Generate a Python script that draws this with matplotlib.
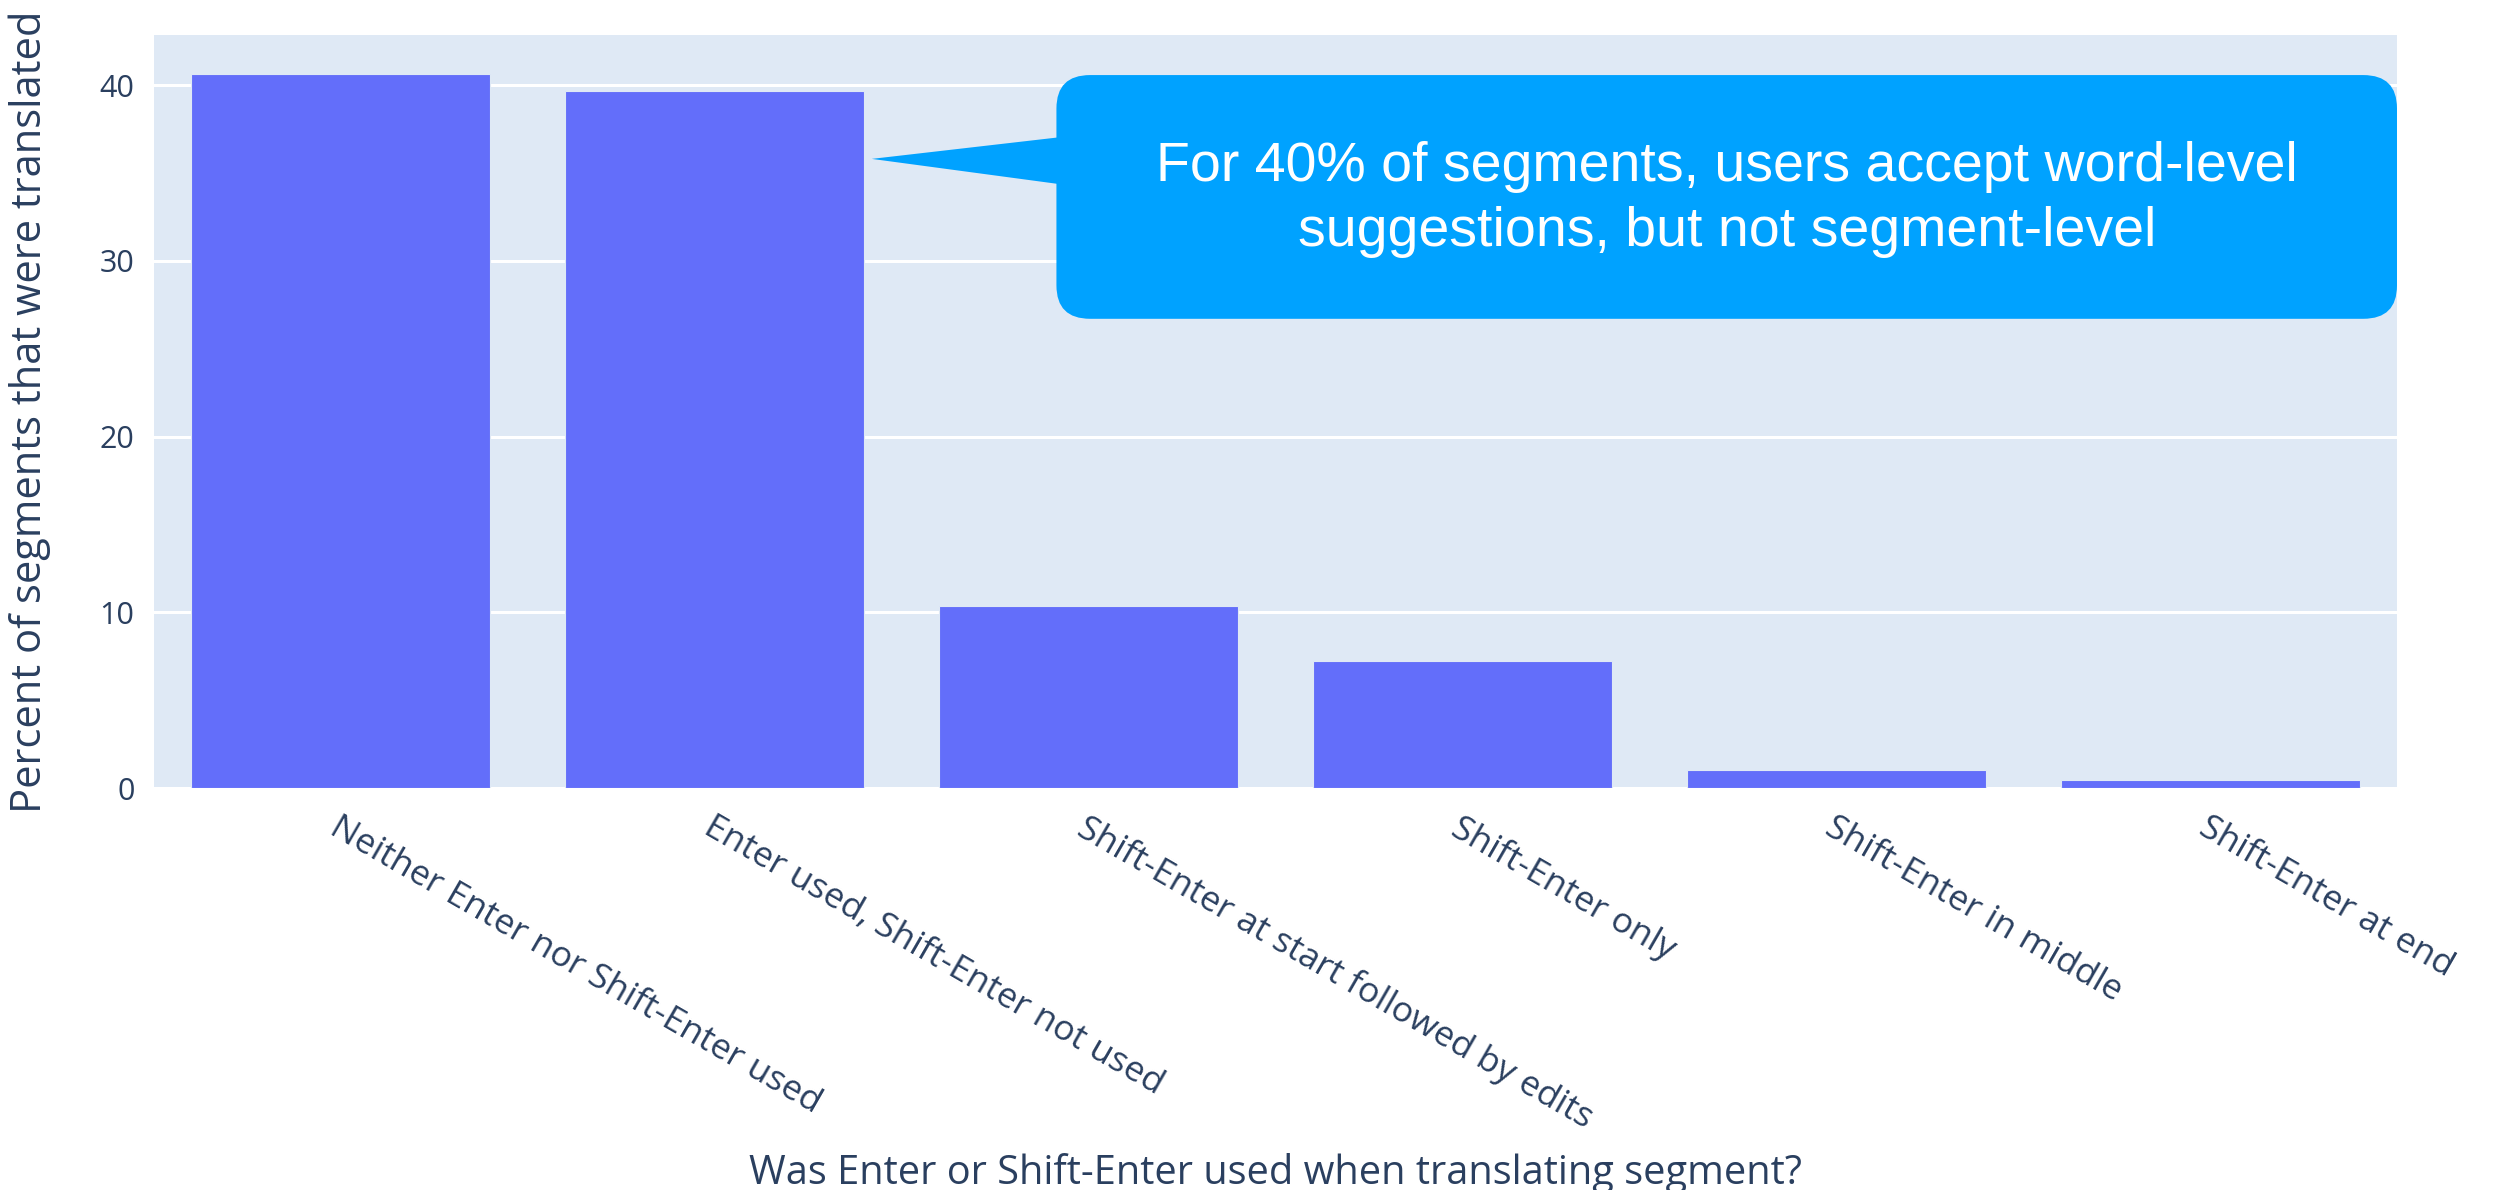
import matplotlib
matplotlib.use('Agg')
import matplotlib.pyplot as plt
from matplotlib.patches import FancyBboxPatch, Polygon

categories = [
    'Neither Enter nor Shift-Enter used',
    'Enter used, Shift-Enter not used',
    'Shift-Enter at start followed by edits',
    'Shift-Enter only',
    'Shift-Enter in middle',
    'Shift-Enter at end',
]
percents = [40.62, 39.68, 10.36, 7.2, 1.05, 0.45]
yticks = [0, 10, 20, 30, 40]
note = 'For 40% of segments, users accept word-level\nsuggestions, but not segment-level'

text_color = '#2a3f5f'
bg_color = '#dfe9f5'
bar_color = '#636efa'
note_color = '#00a2ff'

fig = plt.figure(figsize=(24.98, 11.90), dpi=100)
ax = fig.add_axes([154 / 2498, 1 - 788 / 1190, 2243 / 2498, 753 / 1190])
ax.set_facecolor(bg_color)

x = range(len(categories))
ax.bar(x, percents, width=0.8, color=bar_color, edgecolor=bg_color,
       linewidth=0.8, zorder=2)

ax.set_xlim(-0.5, len(categories) - 0.5)
ax.set_ylim(0, 42.85)
ax.set_yticks(yticks)
ax.grid(axis='y', color='white', linewidth=2.2, zorder=1)
ax.set_axisbelow(True)
for s in ax.spines.values():
    s.set_visible(False)
ax.tick_params(length=0, labelsize=22, labelcolor=text_color, pad=14)
for lbl in ax.get_yticklabels():
    lbl.set_family('Open Sans')

ax.set_xticks(list(x))
ax.set_xticklabels(categories, rotation=-30, ha='left', va='top',
                   rotation_mode='anchor', family='Open Sans', fontsize=25.5,
                   color=text_color)
ax.tick_params(axis='x', pad=16)

ax.set_xlabel('Was Enter or Shift-Enter used when translating segment?',
              family='Open Sans', fontsize=28.6, color=text_color)
ax.xaxis.set_label_coords(0.5, -0.485)
ax.set_ylabel('Percent of segments that were translated',
              family='Open Sans', fontsize=30, color=text_color)
ax.yaxis.set_label_coords(-0.046, 0.5)

# callout box with a pointer towards the second bar
box_l, box_r = 1.914, 5.5
box_b, box_t = 26.7, 40.57
rx = 0.09
ry = 1.9
box = FancyBboxPatch((box_l, box_b), box_r - box_l, box_t - box_b,
                     boxstyle='round,pad=0,rounding_size=%f' % rx,
                     mutation_aspect=ry / rx, facecolor=note_color,
                     edgecolor='none', zorder=4, clip_on=False)
ax.add_patch(box)
tip = Polygon([(box_l + 0.02, 37.06), (1.42, 35.8), (box_l + 0.02, 34.33)],
              closed=True, facecolor=note_color, edgecolor='none', zorder=4,
              clip_on=False)
ax.add_patch(tip)
ax.text((box_l + box_r) / 2, 33.5, note, ha='center', va='center',
        color='white', fontsize=40, family='Liberation Sans',
        linespacing=1.32, zorder=5)

fig.savefig('out.png', dpi=100, facecolor='white')
